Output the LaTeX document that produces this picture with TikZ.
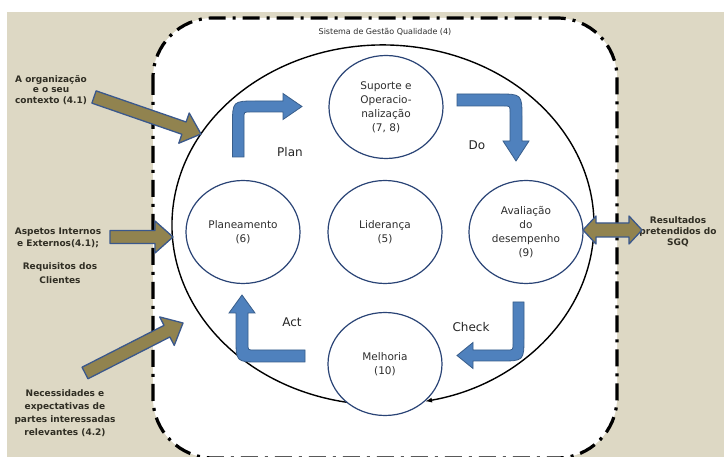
\documentclass[tikz,border=0pt]{standalone}
\usepackage{fontspec}
\setsansfont{DejaVu Sans}
\usetikzlibrary{arrows.meta, calc, shapes.geometric}
\definecolor{bgcol}{RGB}{221, 216, 196}
\definecolor{circcol}{RGB}{42, 68, 118}
\definecolor{pdcacol}{RGB}{79, 129, 189}
\definecolor{pdcaline}{RGB}{56, 93, 138}
\definecolor{feedcol}{RGB}{145, 131, 79}
\definecolor{feedline}{RGB}{58, 88, 140}
\definecolor{txtcol}{RGB}{45, 45, 45}
\definecolor{lblcol}{RGB}{48, 46, 36}
\tikzset{
  sgq/.style     = {draw=black, fill=white, line width=3.2pt, rounded corners=60pt,
                    dash pattern=on 17pt off 7pt on 3pt off 7pt},
  headlbl/.style = {font=\sffamily\fontsize{8}{10}\selectfont, text=txtcol},
  proc/.style    = {ellipse, draw=circcol, line width=1.2pt, fill=white,
                    minimum width=114pt, minimum height=103pt, inner sep=0pt,
                    align=center, text=txtcol,
                    font=\sffamily\fontsize{10.5}{14}\selectfont},
  pdca/.style    = {draw=pdcaline, line width=0.8pt, fill=pdcacol},
  pdcalbl/.style = {font=\sffamily\fontsize{12}{14}\selectfont, text=black!85},
  inlbl/.style   = {font=\sffamily\bfseries\fontsize{9}{#1}\selectfont,
                    align=center, text=lblcol},
  inlbl/.default = 12,
  feed/.style    = {draw=feedline, line width=1.3pt, fill=feedcol, line join=round},
  % the big loop round the five clauses
  cycleline/.style = {draw=black, line width=1.4pt, -{Latex[length=7pt, width=5pt]}},
}
% wide arrow from #1 (tail) to #2 (tip)
\newcommand{\fatarrow}[2]{%
  \coordinate (fabase) at ($(#2)!18pt!(#1)$);
  \filldraw[feed] ($(#1)!6.5pt!90:(#2)$) -- ($(fabase)!6.5pt!90:(#2)$)
    -- ($(fabase)!16pt!90:(#2)$) -- (#2) -- ($(fabase)!16pt!-90:(#2)$)
    -- ($(fabase)!6.5pt!-90:(#2)$) -- ($(#1)!6.5pt!-90:(#2)$) -- cycle;}

\begin{document}
\begin{tikzpicture}[x=1pt, y=-1pt]

  \useasboundingbox (0,0) rectangle (724,457);
  \fill[bgcol] (7,12) rectangle (724,457);

  %% ================ the system boundary ================
  \draw[sgq] (153,18) rectangle (617,458);
  \node[headlbl] (sgqtitle) at (385,32) {Sistema de Gestão Qualidade (4)};

  \draw[cycleline] (353.6,403.2)
       arc[start angle=262, end angle=-78.5, x radius=211pt, y radius=180pt];

  %% ================ clauses ================
  \node[proc] (suporte)     at (386,107) {Suporte e\\Operacio-\\nalização\\(7, 8)};
  \node[proc] (planeamento) at (243,232) {Planeamento\\(6)};
  \node[proc] (lideranca)   at (385,232) {Liderança\\(5)};
  \node[proc] (avaliacao)   at (526,232) {Avaliação\\do\\desempenho\\(9)};
  \node[proc] (melhoria)    at (385,364) {Melhoria\\(10)};

  %% ================ PDCA ================
  \filldraw[pdca] (232.5,157) -- (232.5,125) .. controls (232.5,101) .. (256.5,101)
       -- (283,101) -- (283,93.5) -- (302,106.5) -- (283,119.5) -- (283,112)
       -- (250,112) .. controls (244,112) .. (244,118) -- (244,157) -- cycle;
  \node[pdcalbl] (plan) at (290,152) {Plan};

  \filldraw[pdca] (457,94) -- (498,94) .. controls (522,94) .. (522,118)
       -- (522,141) -- (529,141) -- (516,161) -- (503,141) -- (510,141)
       -- (510,112) .. controls (510,106) .. (504,106) -- (457,106) -- cycle;
  \node[pdcalbl] (do) at (477,145) {Do};

  \filldraw[pdca] (513,302) -- (524,302) -- (524,337) .. controls (524,361) .. (500,361)
       -- (473,361) -- (473,368.5) -- (457,355.5) -- (473,342.5) -- (473,350)
       -- (507,350) .. controls (513,350) .. (513,344) -- cycle;
  \node[pdcalbl] (check) at (471,327) {Check};

  \filldraw[pdca] (305,362) -- (260,362) .. controls (236,362) .. (236,338)
       -- (236,313) -- (229,313) -- (242,295) -- (255,313) -- (248,313)
       -- (248,344) .. controls (248,350) .. (254,350) -- (305,350) -- cycle;
  \node[pdcalbl] (act) at (292,322) {Act};

  %% ================ inputs and outputs ================
  \node[inlbl=10.5] (org) at (51,90) {A organização\\e o seu\\contexto (4.1)};
  \node[inlbl=12.5] (aspetos) at (58,238) {Aspetos Internos\\e Externos(4.1);};
  \node[inlbl=14] (requisitos) at (60,273) {Requisitos dos\\Clientes};
  \node[inlbl=13] (necessidades) at (65,413)
       {Necessidades e\\expectativas de\\partes interessadas\\relevantes (4.2)};
  \node[inlbl=11] (resultados) at (678,232) {Resultados\\pretendidos do\\SGQ};

  \coordinate (orgtail) at (94,97);
  \coordinate (orgtip)  at (201,134);
  \fatarrow{orgtail}{orgtip}

  \coordinate (asptail) at (110,237);
  \coordinate (asptip)  at (173,237);
  \fatarrow{asptail}{asptip}

  \coordinate (nectail) at (85,373);
  \coordinate (nectip)  at (183,323);
  \fatarrow{nectail}{nectip}

  \coordinate (resl) at (583,230);
  \coordinate (resr) at (642,230);
  \filldraw[feed] (resl) -- ++(13,-14) -- ++(0,7) -- ($(resr)+(-13,-7)$) -- ++(0,-7)
       -- (resr) -- ++(-13,14) -- ++(0,-7) -- ($(resl)+(13,7)$) -- ++(0,7) -- cycle;

\end{tikzpicture}
\end{document}
